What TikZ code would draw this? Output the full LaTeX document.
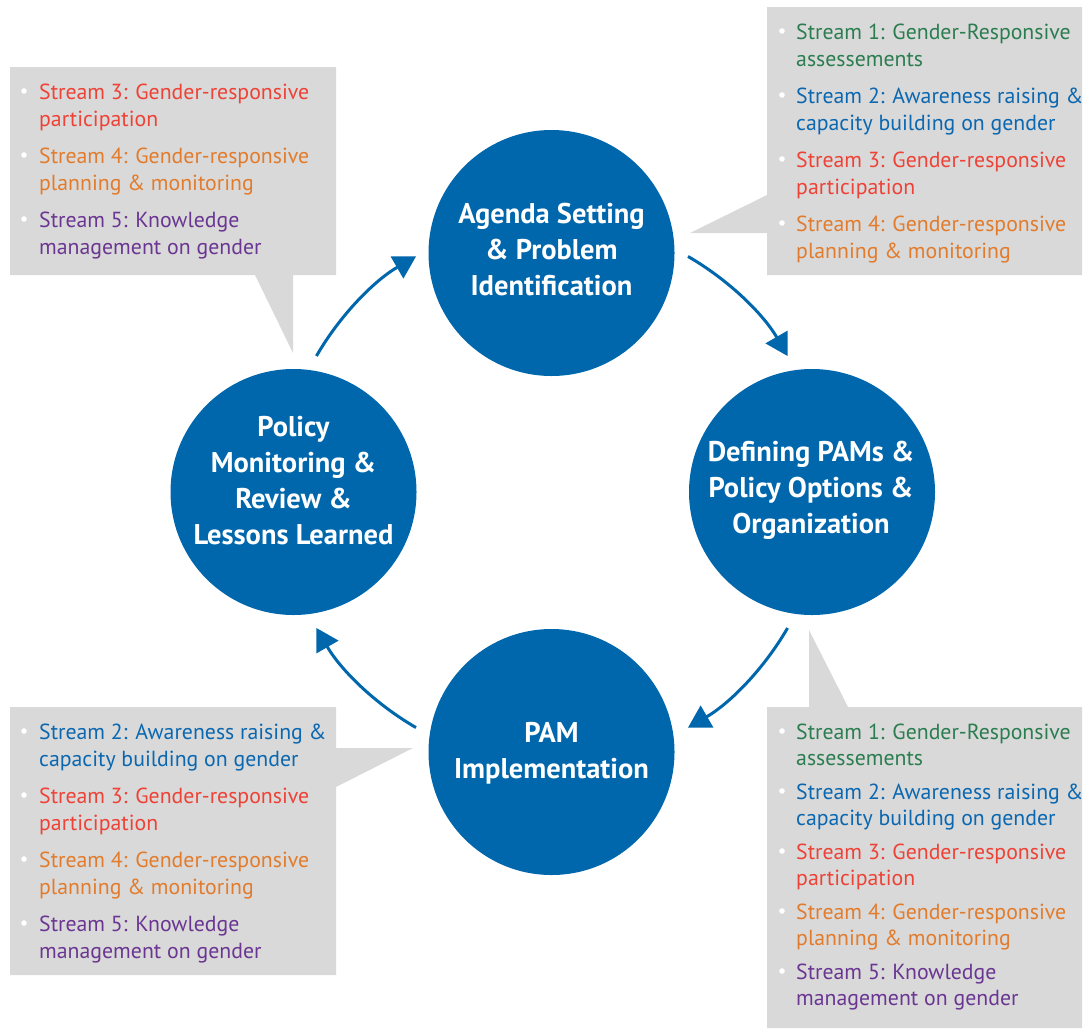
\documentclass[tikz,border=0pt]{standalone}
\usepackage{fontspec}
\setmainfont{PT Sans}
\usetikzlibrary{arrows.meta,calc}
\definecolor{cblue}{RGB}{0,103,172}
\definecolor{sgreen}{RGB}{43,125,80}
\definecolor{sblue}{RGB}{10,103,176}
\definecolor{sred}{RGB}{238,66,54}
\definecolor{sorange}{RGB}{226,124,44}
\definecolor{spurple}{RGB}{106,54,146}
\definecolor{boxgray}{RGB}{217,217,217}
\tikzset{
  stage/.style={circle, fill=cblue, minimum size=246pt, inner sep=0pt},
  stagetxt/.style={anchor=base, inner sep=0pt, text=white, align=center,
    font=\bfseries\fontsize{28.5}{36}\selectfont},
  item/.style={anchor=base west, inner sep=0pt, align=left, font=\fontsize{21.8}{27.5}\selectfont},
  itemt/.style={anchor=base west, inner sep=0pt, align=left, font=\fontsize{21.8}{26}\selectfont},
  cyc/.style={draw=cblue, line width=3pt, -{Triangle[length=22pt,width=25pt]}},
  callout/.style={fill=boxgray, draw=none},
  bul/.style={fill=white}
}
\begin{document}
\begin{tikzpicture}[x=1pt,y=-1pt]
\useasboundingbox (0,0) rectangle (1083,1028);

% callout boxes
\path[callout] (10,67) -- (336,67) -- (336,275) -- (293,275) -- (293,353) -- (255,275) -- (10,275) -- cycle;
\path[callout] (767,7) -- (1082,7) -- (1082,275) -- (767,275) -- (767,233) -- (690,233) -- (767,195) -- cycle;
\path[callout] (10,707) -- (336,707) -- (336,748) -- (413,748) -- (336,787) -- (336,975) -- (10,975) -- cycle;
\path[callout] (767,707) -- (809,707) -- (809,630) -- (848,707) -- (1082,707) -- (1082,1028) -- (767,1028) -- cycle;

% stages
\node[stage] (agenda) at (551.5,253) {};
\node[stage] (define) at (812,492) {};
\node[stage] (impl) at (551.5,752) {};
\node[stage] (review) at (293.5,492) {};
\node[stagetxt] (agendaT) at ($(agenda.center)+(0,42)$) {Agenda Setting\\\& Problem\\Identification};
\node[stagetxt] (defineT) at ($(define.center)+(-1,41)$) {Defining PAMs \&\\Policy Options \&\\Organization};
\node[stagetxt] (implT) at ($(impl.center)+(0,26)$) {PAM\\Implementation};
\node[stagetxt] (reviewT) at ($(review.center)+(0,52)$) {Policy\\Monitoring \&\\Review \&\\Lessons Learned};

% cycle arrows
\coordinate (c) at (552,492);
\coordinate (a1) at ($(c)+(-150:272)$);
\coordinate (a2) at ($(c)+(-60:272)$);
\coordinate (a3) at ($(c)+(30:272)$);
\coordinate (a4) at ($(c)+(120:272)$);
\draw[cyc] (a1) arc[start angle=-150, end angle=-120, radius=272];
\draw[cyc] (a2) arc[start angle=-60, end angle=-30, radius=272];
\draw[cyc] (a3) arc[start angle=30, end angle=60, radius=272];
\draw[cyc] (a4) arc[start angle=120, end angle=150, radius=272];

% top-left box
\node[item, text=sred] (tl3) at (39,126.5) {Stream 3: Gender-responsive\\participation};
\node[item, text=sorange] (tl4) at (39,190.5) {Stream 4: Gender-responsive\\planning \& monitoring};
\node[item, text=spurple] (tl5) at (39,254.5) {Stream 5: Knowledge\\management on gender};
\foreach \y in {99,163,227} \fill[bul] (24,\y-8) circle (2.8);

% top-right box
\node[item, text=sgreen] (tr1) at (796,66.5) {Stream 1: Gender-Responsive\\assessements};
\node[item, text=sblue] (tr2) at (796,130.5) {Stream 2: Awareness raising \&\\capacity building on gender};
\node[item, text=sred] (tr3) at (796,194.5) {Stream 3: Gender-responsive\\participation};
\node[item, text=sorange] (tr4) at (796,258.5) {Stream 4: Gender-responsive\\planning \& monitoring};
\foreach \y in {39,103,167,231} \fill[bul] (782,\y-8) circle (2.8);

% bottom-left box
\node[item, text=sblue] (bl2) at (39,766.5) {Stream 2: Awareness raising \&\\capacity building on gender};
\node[item, text=sred] (bl3) at (39,830.5) {Stream 3: Gender-responsive\\participation};
\node[item, text=sorange] (bl4) at (39,894.5) {Stream 4: Gender-responsive\\planning \& monitoring};
\node[item, text=spurple] (bl5) at (39,958.5) {Stream 5: Knowledge\\management on gender};
\foreach \y in {739,803,867,931} \fill[bul] (24,\y-8) circle (2.8);

% bottom-right box
\node[itemt, text=sgreen] (br1) at (796,765) {Stream 1: Gender-Responsive\\assessements};
\node[itemt, text=sblue] (br2) at (796,825) {Stream 2: Awareness raising \&\\capacity building on gender};
\node[itemt, text=sred] (br3) at (796,885) {Stream 3: Gender-responsive\\participation};
\node[itemt, text=sorange] (br4) at (796,945) {Stream 4: Gender-responsive\\planning \& monitoring};
\node[itemt, text=spurple] (br5) at (796,1005) {Stream 5: Knowledge\\management on gender};
\foreach \y in {739,799,859,919,979} \fill[bul] (782,\y-8) circle (2.8);
\end{tikzpicture}
\end{document}
